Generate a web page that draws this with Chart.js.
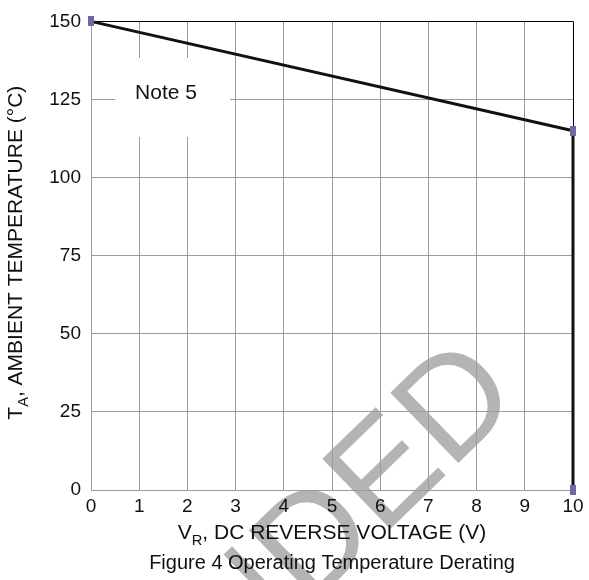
<!DOCTYPE html>
<html>
<head>
<meta charset="utf-8">
<script src="https://cdn.jsdelivr.net/npm/chart.js@4.4.1/dist/chart.umd.min.js"></script>
<style>
  html, body { margin: 0; padding: 0; background: #fff; }
  #wrap { width: 589px; height: 580px; }
</style>
</head>
<body>
<div id="wrap"><canvas id="chart" width="589" height="580"></canvas></div>
<script>
// derating curve data
const voltage = [0, 10, 10];
const temperature = [150, 115, 0];
const xMin = 0, xMax = 10, xStep = 1;
const yMin = 0, yMax = 150, yStep = 25;

const FONT = "'Liberation Sans', Arial, sans-serif";
const gridGrey = '#9b9b9b';

// small blue-grey rectangle used as the point marker
const marker = document.createElement('canvas');
marker.width = 6;
marker.height = 10;
const mctx = marker.getContext('2d');
mctx.fillStyle = '#6b6b9f';
mctx.fillRect(0, 0, 6, 10);

// draws text with subscript pieces, centred on x
function drawParts(ctx, parts, x, y, size) {
    let total = 0;
    parts.forEach(p => {
        ctx.font = (p.sub ? size * 0.7 : size) + 'px ' + FONT;
        p.w = ctx.measureText(p.t).width;
        total += p.w;
    });
    let cx = x - total / 2;
    parts.forEach(p => {
        ctx.font = (p.sub ? size * 0.7 : size) + 'px ' + FONT;
        ctx.fillText(p.t, cx, p.sub ? y + size * 0.3 : y);
        cx += p.w;
    });
}

const decorations = {
    id: 'decorations',
    beforeDraw(chart) {
        // watermark, behind everything
        const ctx = chart.ctx;
        ctx.save();
        ctx.translate(382, 537);
        ctx.rotate(-0.77);
        ctx.font = '142px ' + FONT;
        ctx.fillStyle = '#b4b4b4';
        ctx.textBaseline = 'alphabetic';
        const off = ctx.measureText('RECOMMEND').width;
        ctx.fillText('RECOMMENDED', -off, 0);
        ctx.restore();
    },
    beforeDatasetsDraw(chart) {
        // white label box for the note
        const ctx = chart.ctx;
        ctx.save();
        ctx.fillStyle = '#fff';
        ctx.fillRect(115, 58, 115, 79);
        ctx.fillStyle = '#111';
        ctx.font = '21px ' + FONT;
        ctx.textAlign = 'center';
        ctx.textBaseline = 'middle';
        ctx.fillText('Note 5', 166, 93);
        ctx.restore();
    },
    afterDraw(chart) {
        const ctx = chart.ctx;
        const area = chart.chartArea;
        const cx = (area.left + area.right) / 2;
        ctx.save();
        ctx.fillStyle = '#111';
        ctx.textAlign = 'left';
        ctx.textBaseline = 'alphabetic';
        drawParts(ctx, [
            { t: 'V' }, { t: 'R', sub: true }, { t: ', DC REVERSE VOLTAGE (V)' }
        ], cx, 539, 21);
        ctx.font = '20px ' + FONT;
        ctx.textAlign = 'center';
        ctx.fillText('Figure 4 Operating Temperature Derating', cx, 569);
        ctx.textAlign = 'left';
        ctx.translate(22, (area.top + area.bottom) / 2 - 3);
        ctx.rotate(-Math.PI / 2);
        drawParts(ctx, [
            { t: 'T' }, { t: 'A', sub: true }, { t: ', AMBIENT TEMPERATURE (\u00B0C)' }
        ], 0, 0, 21);
        ctx.restore();
    }
};

const ctx = document.getElementById('chart').getContext('2d');
const myChart = new Chart(ctx, {
    type: 'scatter',
    data: {
        datasets: [{
            data: voltage.map((v, i) => ({ x: v, y: temperature[i] })),
            showLine: true,
            borderColor: '#111',
            borderWidth: 3,
            pointStyle: marker,
            pointRadius: 5,
            pointHoverRadius: 5,
            clip: false
        }]
    },
    options: {
        responsive: false,
        animation: false,
        layout: { padding: { left: 0, right: 16, top: 12, bottom: 0 } },
        plugins: {
            legend: { display: false },
            tooltip: { enabled: false }
        },
        scales: {
            x: {
                type: 'linear',
                min: xMin,
                max: xMax,
                ticks: {
                    stepSize: xStep,
                    padding: 5,
                    color: '#111',
                    font: { family: FONT, size: 19 }
                },
                grid: {
                    color: c => (c.tick && c.tick.value === xMax ? '#000' : gridGrey),
                    lineWidth: 1,
                    drawTicks: false
                },
                border: { color: gridGrey },
                afterFit(s) { s.height = 90; }
            },
            y: {
                type: 'linear',
                min: yMin,
                max: yMax,
                ticks: {
                    stepSize: yStep,
                    padding: 10,
                    color: '#111',
                    font: { family: FONT, size: 19 }
                },
                grid: {
                    color: c => (c.tick && c.tick.value === yMax ? '#000' : gridGrey),
                    lineWidth: 1,
                    drawTicks: false
                },
                border: { color: gridGrey },
                afterFit(s) { s.width = 91; }
            }
        }
    },
    plugins: [decorations]
});
</script>
</body>
</html>
